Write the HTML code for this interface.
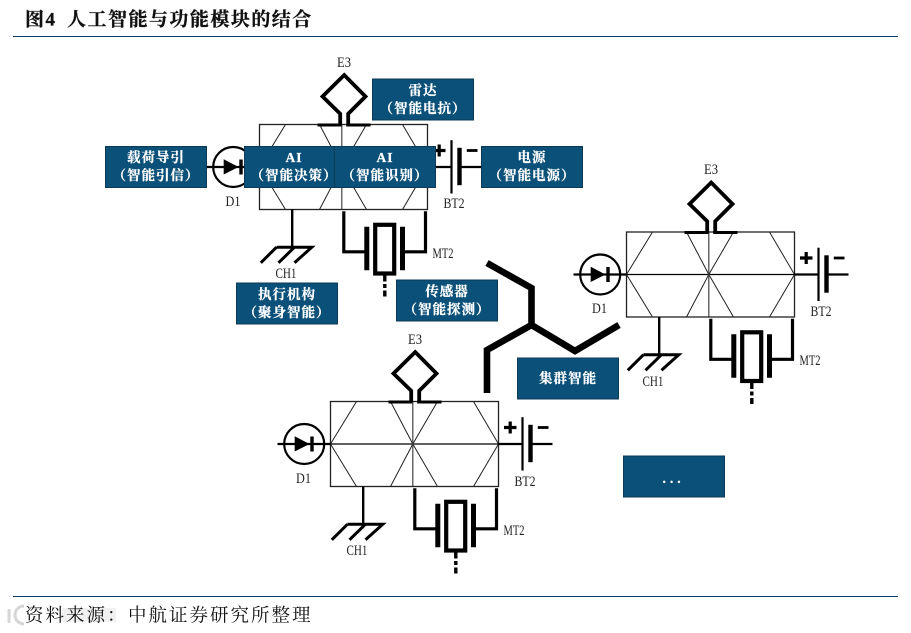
<!DOCTYPE html>
<html><head><meta charset="utf-8">
<style>
html,body{margin:0;padding:0;background:#fff;width:911px;height:633px;overflow:hidden}
svg{display:block}
.lab{font-family:"Liberation Serif",serif;font-size:14.5px;fill:#222;text-anchor:middle}
.bx{fill:#0b5079;stroke:#0d3a55;stroke-width:1}
.bt{font-family:"Liberation Serif","Noto Serif CJK SC",serif;font-weight:700;font-size:13.5px;letter-spacing:1px;fill:#fff;text-anchor:middle;stroke:#fff;stroke-width:.25px}
.hd{font-family:"Liberation Serif","Noto Serif CJK SC",serif;fill:#111}
</style></head><body>
<svg width="911" height="633" viewBox="0 0 911 633" xmlns="http://www.w3.org/2000/svg">
<defs>
<g id="m" fill="none" stroke="#000">
  <g stroke-width="1" stroke="#222">
    <path d="M0 42.5L26 0M0 42.5L26 85M82.3 42.5L60 0M82.3 42.5L60 85M82.3 42.5L107 0M82.3 42.5L107 85M168 42.5L143 0M168 42.5L143 85"/>
    <path d="M0 42.5H168" stroke="#000" stroke-width="1.2"/>
    <path d="M82.3 0V85" stroke="#444" stroke-width="1.2"/>
    <rect x="0" y="0" width="168" height="85" stroke="#222" stroke-width="1.3"/>
  </g>
  <path d="M80.7 0V-10.7L63 -28L84.7 -49.5L106 -28L88.7 -10.7V0" stroke-width="3.8"/>
  <path d="M58 0.5H82M86.7 0.5H111" stroke-width="3"/>
  <path d="M-53 42.5H0" stroke-width="2.2"/>
  <circle cx="-26.3" cy="42.5" r="20" stroke-width="2.2"/>
  <path d="M-35.8 34.7V50L-21 42.5Z" fill="#000" stroke="none"/>
  <path d="M-18.5 35V50" stroke-width="3.4"/>
  <path d="M32.7 85V122.7" stroke-width="2.4"/>
  <path d="M17 122.7H52.3L35 138.3M35 122.7L19 138.3M17 122.7L1.3 138.3" stroke-width="3"/>
  <path d="M84.3 86.7V127.3H105M166 86.7V127.3H145.3" stroke-width="3.2"/>
  <path d="M107.3 102.3V145.7M143 102.3V145.7" stroke-width="5"/>
  <rect x="115.7" y="100.3" width="19" height="48.7" stroke-width="4.2"/>
  <path d="M125.3 151V172" stroke-width="3.4" stroke-dasharray="6 2.5 4 2.5"/>
  <path d="M168 42.5H192M201 42.5H222" stroke-width="2.2"/>
  <path d="M192 15.7V69" stroke-width="2.2"/>
  <path d="M200 23.3V60.7" stroke-width="4.4"/>
  <path d="M173.5 26H186M179.7 20V32" stroke-width="3.2"/>
  <path d="M207.3 26H218" stroke-width="2.8"/>
</g>
</defs>

<text class="hd" x="25" y="25.5" font-size="19" font-weight="700" letter-spacing="1.5" stroke="#111" stroke-width=".3">图4</text>
<text class="hd" x="67" y="25.5" font-size="19" font-weight="700" letter-spacing="1.48" stroke="#111" stroke-width=".3">人工智能与功能模块的结合</text>
<rect x="13" y="36" width="885" height="1" fill="#0b3c64"/>

<use href="#m" x="259.5" y="124.5"/>
<use href="#m" x="626.5" y="232"/>
<use href="#m" x="330.5" y="401.5"/>

<g>
<text class="lab" x="344" y="67" textLength="14" lengthAdjust="spacingAndGlyphs">E3</text>
<text class="lab" x="233" y="206" textLength="15" lengthAdjust="spacingAndGlyphs">D1</text>
<text class="lab" x="286" y="278" textLength="21" lengthAdjust="spacingAndGlyphs">CH1</text>
<text class="lab" x="443" y="258" textLength="21" lengthAdjust="spacingAndGlyphs">MT2</text>
<text class="lab" x="454" y="208" textLength="21" lengthAdjust="spacingAndGlyphs">BT2</text>

<text class="lab" x="711" y="174" textLength="14" lengthAdjust="spacingAndGlyphs">E3</text>
<text class="lab" x="599.5" y="313" textLength="15" lengthAdjust="spacingAndGlyphs">D1</text>
<text class="lab" x="653" y="386" textLength="21" lengthAdjust="spacingAndGlyphs">CH1</text>
<text class="lab" x="810" y="365" textLength="21" lengthAdjust="spacingAndGlyphs">MT2</text>
<text class="lab" x="821" y="316" textLength="21" lengthAdjust="spacingAndGlyphs">BT2</text>

<text class="lab" x="415" y="344" textLength="14" lengthAdjust="spacingAndGlyphs">E3</text>
<text class="lab" x="303.5" y="483" textLength="15" lengthAdjust="spacingAndGlyphs">D1</text>
<text class="lab" x="357" y="555" textLength="21" lengthAdjust="spacingAndGlyphs">CH1</text>
<text class="lab" x="514" y="535" textLength="21" lengthAdjust="spacingAndGlyphs">MT2</text>
<text class="lab" x="525" y="486" textLength="21" lengthAdjust="spacingAndGlyphs">BT2</text>
</g>

<path d="M487 263L531.5 288V325L575 351L619 325M531.5 325L487 350V393" fill="none" stroke="#000" stroke-width="6.6"/>

<rect class="bx" x="105.5" y="146.5" width="101" height="41"/>
<rect class="bx" x="244.5" y="146.5" width="90" height="41"/>
<rect class="bx" x="334.5" y="146.5" width="101" height="41"/>
<rect class="bx" x="372.5" y="79" width="101" height="41"/>
<rect class="bx" x="481.5" y="146.5" width="101" height="41"/>
<rect class="bx" x="236.5" y="283" width="101" height="41"/>
<rect class="bx" x="396.5" y="280" width="101" height="41"/>
<rect class="bx" x="517.5" y="358" width="101" height="41"/>
<rect class="bx" x="623.5" y="456" width="101" height="41"/>

<text class="bt" x="156" y="162">载荷导引</text>
<text class="bt" x="156" y="180">（智能引信）</text>
<text class="bt" x="294" y="162">AI</text>
<text class="bt" x="294" y="180">（智能决策）</text>
<text class="bt" x="385" y="162">AI</text>
<text class="bt" x="385" y="180">（智能识别）</text>
<text class="bt" x="423" y="95">雷达</text>
<text class="bt" x="423" y="113">（智能电抗）</text>
<text class="bt" x="532" y="162">电源</text>
<text class="bt" x="532" y="180">（智能电源）</text>
<text class="bt" x="287" y="299">执行机构</text>
<text class="bt" x="287" y="317">（聚身智能）</text>
<text class="bt" x="447" y="296">传感器</text>
<text class="bt" x="447" y="314">（智能探测）</text>
<text class="bt" x="568" y="383">集群智能</text>
<text class="bt" x="673.5" y="483" style="letter-spacing:4px">...</text>

<rect x="13" y="596" width="885" height="1" fill="#0b3c64"/>
<g fill="none" stroke="#ccc" stroke-width="3" opacity=".8">
  <path d="M9 609V623"/>
  <path d="M24 606A9 9 0 1 0 24 624"/>
  <rect x="62" y="608" width="54" height="14" fill="#eee" stroke="none"/>
</g>
<text class="hd" x="25" y="621.5" font-size="18.5" letter-spacing="2">资料来源：</text>
<text class="hd" x="128" y="621.5" font-size="18.5" letter-spacing="2">中航证券研究所整理</text>
</svg>
</body></html>
